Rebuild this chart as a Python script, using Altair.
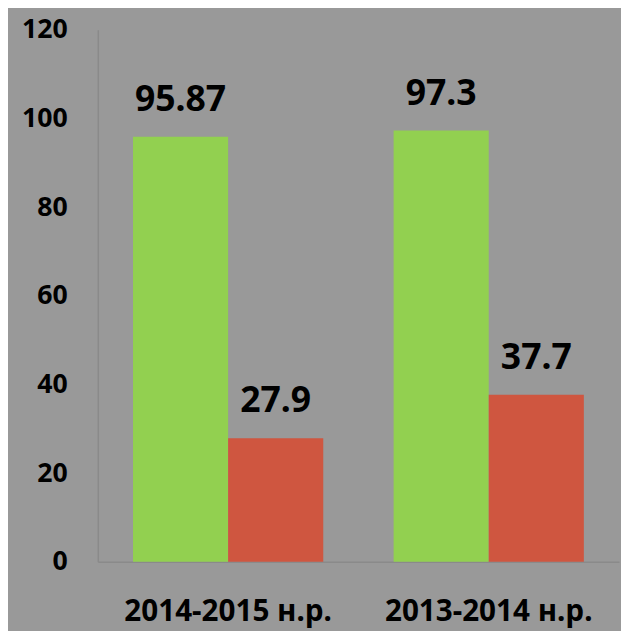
import altair as alt
import pandas as pd

categories = ["2014-2015 н.р.", "2014-2015 н.р.", "2013-2014 н.р.", "2013-2014 н.р."]
series = ["A", "B", "A", "B"]
values = [95.87, 27.9, 97.3, 37.7]
labels = ["95.87", "27.9", "97.3", "37.7"]
order = ["2014-2015 н.р.", "2013-2014 н.р."]

df = pd.DataFrame({"cat": categories, "s": series, "v": values, "lab": labels})

FONT = "Noto Sans"

x = alt.X("cat:N", sort=order, title=None,
          scale=alt.Scale(paddingInner=0.27, paddingOuter=0.135),
          axis=alt.Axis(labelAngle=0, labelFont=FONT, labelFontSize=30,
                        labelFontWeight="bold", labelColor="#000000", labelLimit=0,
                        labelPadding=35, ticks=False, domainColor="#8a8a8a",
                        domainWidth=1.5))
y = alt.Y("v:Q", title=None,
          scale=alt.Scale(domain=[0, 120], nice=False),
          axis=alt.Axis(values=[0, 20, 40, 60, 80, 100, 120], grid=False,
                        ticks=False, labelFont=FONT, labelFontSize=27,
                        labelFontWeight="bold", labelColor="#000000",
                        labelPadding=31, domainColor="#8a8a8a", domainWidth=1.5))
xo = alt.XOffset("s:N", sort=["A", "B"])

bars = alt.Chart(df).mark_bar().encode(
    x=x, xOffset=xo, y=y,
    color=alt.Color("s:N", scale=alt.Scale(domain=["A", "B"], range=["#92d050", "#cf5640"]), legend=None),
)
text = alt.Chart(df).mark_text(font=FONT, fontSize=36, fontWeight="bold", color="#000000",
                              baseline="alphabetic", dy=-26).encode(
    x=alt.X("cat:N", sort=order), xOffset=xo, y="v:Q", text="lab:N")

chart = (bars + text).properties(
    width=528, height=539, autosize="none",
    padding={"left": 91, "top": 18, "right": 2, "bottom": 66},
    background="#999999",
).configure_view(stroke=None)

chart.save("out.html", embed_options={"renderer": "svg", "actions": False})
